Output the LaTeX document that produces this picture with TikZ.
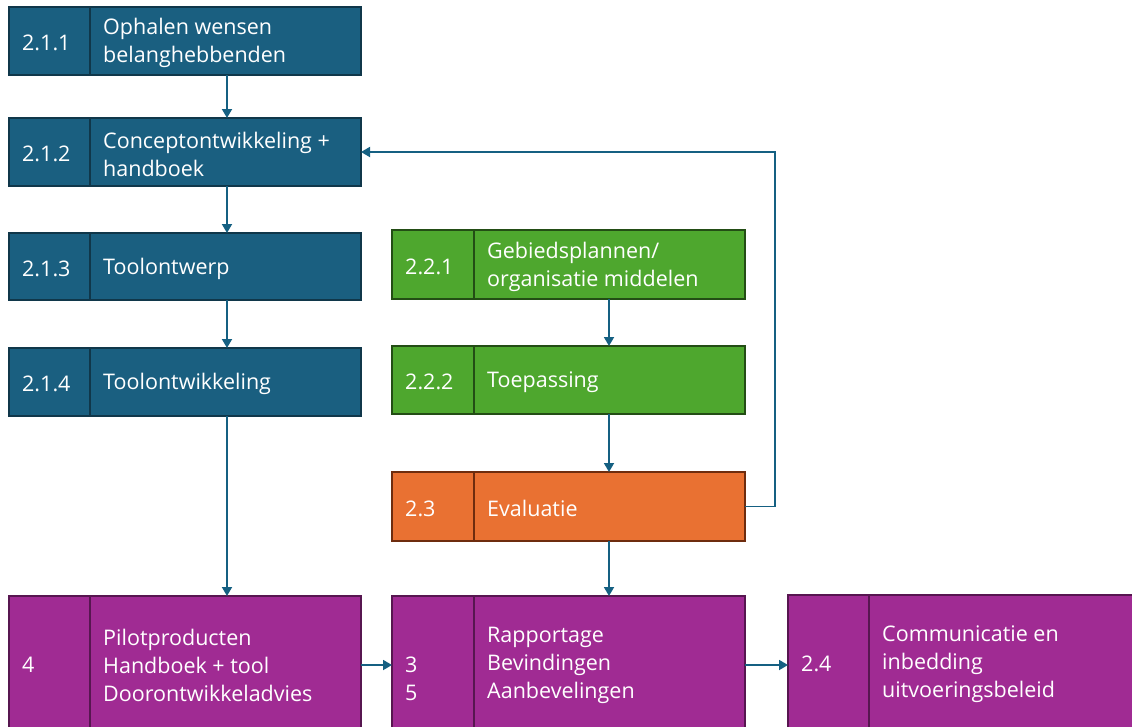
\documentclass[tikz,border=0pt]{standalone}
\usepackage{fontspec}
\setmainfont{Open Sans}
\usetikzlibrary{arrows.meta}
\definecolor{bluef}{HTML}{1A5F80}
\definecolor{blued}{HTML}{10374A}
\definecolor{greenf}{HTML}{4EA72E}
\definecolor{greend}{HTML}{234D15}
\definecolor{orangef}{HTML}{E97132}
\definecolor{oranged}{HTML}{6E2C0E}
\definecolor{purplef}{HTML}{A02B93}
\definecolor{purpled}{HTML}{571650}
\definecolor{arrowc}{HTML}{156082}
\newcommand\mybox[9]{%
  \node[cell,#7,anchor=north west,minimum width=#4pt,minimum height=#5pt] (#1) at (#2,#3) {};
  \draw[#7,fill=none,line width=2pt] ([xshift=#6pt]#1.north west) -- ([xshift=#6pt]#1.south west);
  \node[lbl] (#1n) at ([xshift=13pt,yshift=-2pt]#1.west) {#8};
  \node[lbl] (#1t) at ([xshift=#6pt+13pt,yshift=-2pt]#1.west) {#9};
}
\begin{document}
\begin{tikzpicture}[x=1pt,y=-1pt,
  cell/.style={draw,line width=2pt,inner sep=0pt,outer sep=0pt},
  lbl/.style={anchor=west,text=white,align=left,font=\fontsize{21.5}{28}\selectfont,inner sep=0pt},
  bluebox/.style={fill=bluef,draw=blued},
  greenbox/.style={fill=greenf,draw=greend},
  orangebox/.style={fill=orangef,draw=oranged},
  purplebox/.style={fill=purplef,draw=purpled},
  conn/.style={draw=arrowc,line width=1.8pt,-{Triangle[length=9pt,width=10pt]}}]
\useasboundingbox (0,0) rectangle (1132,726);
\mybox{b211}{9}{7}{352}{68}{81}{bluebox}{2.1.1}{Ophalen wensen\\belanghebbenden}
\mybox{b212}{9}{118}{352}{68}{81}{bluebox}{2.1.2}{Conceptontwikkeling +\\handboek}
\mybox{b213}{9}{233}{352}{67}{81}{bluebox}{2.1.3}{Toolontwerp}
\mybox{b214}{9}{348}{352}{68}{81}{bluebox}{2.1.4}{Toolontwikkeling}
\mybox{b221}{392}{230}{353}{69}{82}{greenbox}{2.2.1}{Gebiedsplannen/\\organisatie middelen}
\mybox{b222}{392}{346}{353}{68}{82}{greenbox}{2.2.2}{Toepassing}
\mybox{b23}{392}{472}{353}{69}{82}{orangebox}{2.3}{Evaluatie}
\mybox{b4}{9}{596}{352}{134}{81}{purplebox}{4}{Pilotproducten\\Handboek + tool\\Doorontwikkeladvies}
\mybox{b35}{392}{596}{353}{134}{82}{purplebox}{\phantom{3}\\3\\5}{Rapportage\\Bevindingen\\Aanbevelingen}
\mybox{b24}{788}{595}{360}{134}{81}{purplebox}{2.4}{Communicatie en\\inbedding\\uitvoeringsbeleid}
\draw[conn] ([xshift=218pt]b211.south west) -- ([xshift=218pt]b212.north west);
\draw[conn] ([xshift=218pt]b212.south west) -- ([xshift=218pt]b213.north west);
\draw[conn] ([xshift=218pt]b213.south west) -- ([xshift=218pt]b214.north west);
\draw[conn] ([xshift=218pt]b214.south west) -- ([xshift=218pt]b4.north west);
\draw[conn] ([xshift=217pt]b221.south west) -- ([xshift=217pt]b222.north west);
\draw[conn] ([xshift=217pt]b222.south west) -- ([xshift=217pt]b23.north west);
\draw[conn] ([xshift=217pt]b23.south west) -- ([xshift=217pt]b35.north west);
\draw[conn] (b23.east) -- ++(30,0) |- (b212.east);
\draw[conn] ([yshift=-2pt]b4.east) -- ([yshift=-2pt]b4.east -| b35.west);
\draw[conn] ([yshift=-2pt]b35.east) -- ([yshift=-2pt]b35.east -| b24.west);
\end{tikzpicture}
\end{document}
